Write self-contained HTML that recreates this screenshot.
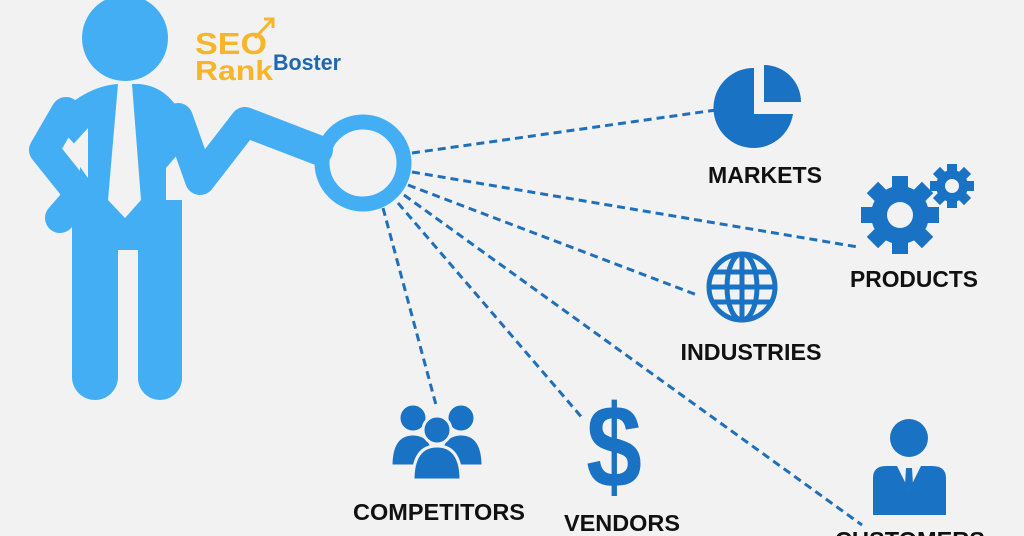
<!DOCTYPE html>
<html><head><meta charset="utf-8"><style>
html,body{margin:0;padding:0;background:#f2f2f2;}
svg{display:block;}
.l{font-family:"Liberation Sans",sans-serif;font-weight:bold;fill:#111;}
</style></head><body>
<svg width="1024" height="536" viewBox="0 0 1024 536" xmlns="http://www.w3.org/2000/svg">
<rect width="1024" height="536" fill="#f2f2f2"/>
<g fill="#44aef5" stroke="none">
  <circle cx="125" cy="38" r="43"/>
  <path d="M52,120 Q85,86 118,84 L140,84 Q178,88 190,140 L166,168 L166,250 L80,250 L80,150 Z"/>
  <polyline points="66,112 44,150 80,195 60,218" fill="none" stroke="#44aef5" stroke-width="30" stroke-linejoin="round" stroke-linecap="round"/>
  <polyline points="178,118 200,180 245,122 318,150" fill="none" stroke="#44aef5" stroke-width="30" stroke-linejoin="round" stroke-linecap="round"/>
  <rect x="72" y="200" width="46" height="200" rx="23"/>
  <rect x="138" y="200" width="44" height="200" rx="22"/>
  <rect x="72" y="200" width="110" height="48"/>
</g>
<polygon points="88,128 68,150 88,178" fill="#f2f2f2"/>
<polygon points="118,84 132,84 141,200 125,218 108,200" fill="#f2f2f2"/>
<polygon points="120,250 138,250 138,400 120,400" fill="#f2f2f2"/>
<circle cx="363" cy="163" r="41" fill="none" stroke="#44aef5" stroke-width="15"/>
<g stroke="#1f6fba" stroke-width="3" stroke-dasharray="8,5" fill="none">
  <line x1="412" y1="153" x2="716" y2="110"/>
  <line x1="412" y1="172" x2="858" y2="247"/>
  <line x1="408" y1="185" x2="697" y2="295"/>
  <line x1="404" y1="195" x2="862" y2="525"/>
  <line x1="398" y1="203" x2="584" y2="420"/>
  <line x1="383" y1="208" x2="436" y2="405"/>
</g>
<g fill="#1a72c4">
  <path d="M754,107 L754,68 A40,40 0 1,0 793,114 L754,114 Z"/>
  <path d="M764,65 A37,37 0 0,1 801,102 L764,102 Z"/>
  <g transform="translate(900,215)">
    <circle r="29"/>
    <g><rect x="-8" y="-39" width="16" height="78"/><rect x="-8" y="-39" width="16" height="78" transform="rotate(45)"/><rect x="-8" y="-39" width="16" height="78" transform="rotate(90)"/><rect x="-8" y="-39" width="16" height="78" transform="rotate(135)"/></g>
    <circle r="13" fill="#f2f2f2"/>
  </g>
  <g transform="translate(952,186)">
    <circle r="16"/>
    <rect x="-5" y="-22" width="10" height="44"/><rect x="-5" y="-22" width="10" height="44" transform="rotate(45)"/><rect x="-5" y="-22" width="10" height="44" transform="rotate(90)"/><rect x="-5" y="-22" width="10" height="44" transform="rotate(135)"/>
    <circle r="7" fill="#f2f2f2"/>
  </g>
</g>
<g fill="none" stroke="#1a72c4" stroke-width="5" transform="translate(742,287)">
  <circle r="33"/>
  <ellipse rx="15" ry="33"/>
  <line x1="0" y1="-33" x2="0" y2="33"/>
  <line x1="-33" y1="0" x2="33" y2="0"/>
  <line x1="-29" y1="-15" x2="29" y2="-15"/>
  <line x1="-29" y1="15" x2="29" y2="15"/>
</g>
<g fill="#1a72c4" stroke="#f2f2f2" stroke-width="3">
  <circle cx="413" cy="418" r="14"/>
  <path d="M391,466 Q391,434 413,434 Q435,434 435,466 Z"/>
  <circle cx="461" cy="418" r="14"/>
  <path d="M439,466 Q439,434 461,434 Q483,434 483,466 Z"/>
  <circle cx="437" cy="430" r="14"/>
  <path d="M413,480 Q413,446 437,446 Q461,446 461,480 Z"/>
</g>
<text x="614" y="487" text-anchor="middle" font-family="Liberation Sans,sans-serif" font-weight="bold" font-size="118" fill="#1a72c4" transform="translate(614,0) scale(0.85,1) translate(-614,0)">$</text>
<g fill="#1a72c4">
  <circle cx="909" cy="438" r="19"/>
  <path d="M873,515 L873,478 Q873,466 886,466 L932,466 Q946,466 946,478 L946,515 Z"/>
</g>
<polygon points="897,466 909,490 921,466" fill="#f2f2f2"/>
<polygon points="906,468 912,468 913,485 909,490 905,485" fill="#1a72c4"/>
<g class="l" font-size="23">
  <text x="765" y="183" text-anchor="middle" textLength="114" lengthAdjust="spacingAndGlyphs">MARKETS</text>
  <text x="914" y="287" text-anchor="middle" textLength="128" lengthAdjust="spacingAndGlyphs">PRODUCTS</text>
  <text x="751" y="360" text-anchor="middle" textLength="141" lengthAdjust="spacingAndGlyphs">INDUSTRIES</text>
  <text x="439" y="520" text-anchor="middle" textLength="172" lengthAdjust="spacingAndGlyphs">COMPETITORS</text>
  <text x="622" y="531" text-anchor="middle" textLength="116" lengthAdjust="spacingAndGlyphs">VENDORS</text>
  <text x="910" y="548" text-anchor="middle" textLength="150" lengthAdjust="spacingAndGlyphs">CUSTOMERS</text>
</g>
<g font-family="Liberation Sans,sans-serif" font-weight="bold">
  <text x="195" y="54" font-size="31" fill="#f7b52a" textLength="72" lengthAdjust="spacingAndGlyphs">SEO</text>
  <text x="195" y="80" font-size="28" fill="#f7b52a" textLength="78" lengthAdjust="spacingAndGlyphs">Rank</text>
  <text x="273" y="70" font-size="22" fill="#1d67b3" textLength="68" lengthAdjust="spacingAndGlyphs">Boster</text>
</g>
<path d="M255,38 L272,20 M264,19 L273,19 L273,28" stroke="#f7b52a" stroke-width="3" fill="none"/>
</svg>
</body></html>
